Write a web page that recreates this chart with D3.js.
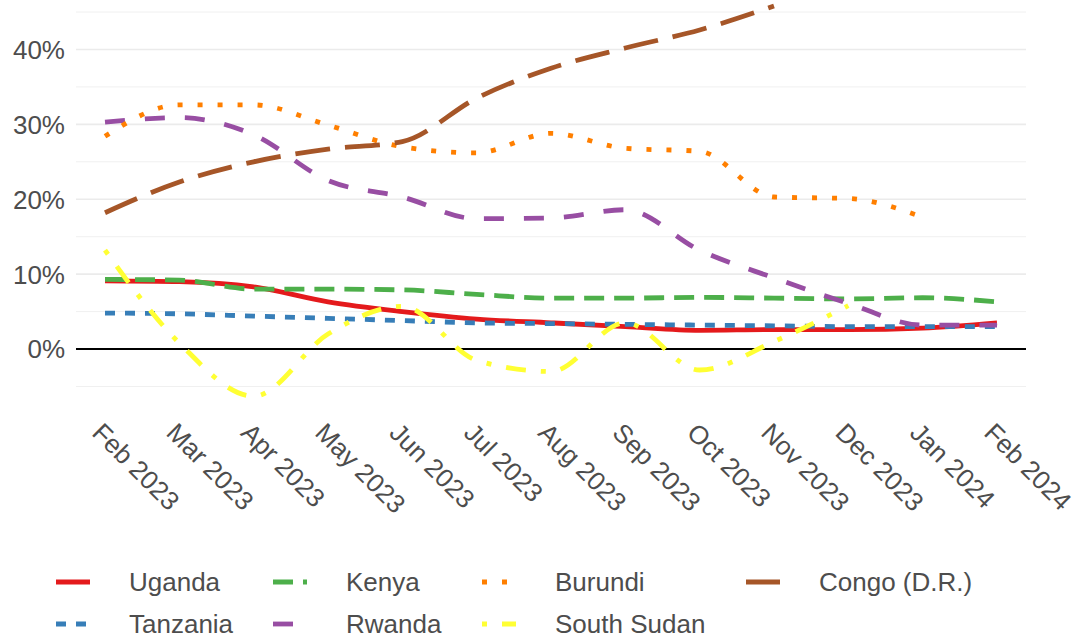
<!DOCTYPE html>
<html>
<head>
<meta charset="utf-8">
<script src="https://cdn.jsdelivr.net/npm/d3@7"></script>
<style>
  html, body { margin: 0; padding: 0; background: #ffffff; }
  svg { display: block; }
  text { font-family: "Liberation Sans", Arial, sans-serif; }
</style>
</head>
<body>
<svg id="chart" width="1078" height="639"></svg>
<script>
// ---- data ----
const months = ["Feb 2023","Mar 2023","Apr 2023","May 2023","Jun 2023","Jul 2023","Aug 2023",
                "Sep 2023","Oct 2023","Nov 2023","Dec 2023","Jan 2024","Feb 2024"];
const uganda     = [9.1, 9.0, 8.3, 6.3, 5.0, 4.0, 3.5, 3.0, 2.5, 2.6, 2.6, 2.8, 3.5];
const tanzania   = [4.8, 4.7, 4.4, 4.1, 3.8, 3.5, 3.4, 3.3, 3.2, 3.1, 3.0, 3.0, 3.0];
const kenya      = [9.3, 9.2, 8.0, 8.0, 7.9, 7.3, 6.8, 6.8, 6.9, 6.8, 6.7, 6.85, 6.3];
const rwanda     = [30.3, 30.9, 28.6, 22.5, 20.3, 17.4, 17.5, 18.6, 13.2, 9.5, 6.1, 3.2, 3.2];
const burundi    = [28.4, 32.6, 32.6, 29.9, 27.0, 26.2, 28.8, 26.8, 26.4, 20.3, 20.1, 17.6, null];
const southSudan = [13.2, 0.8, -6.3, 2.0, 5.7, -1.5, -3.0, 3.5, -2.8, 1.0, 5.8, null, null];
const congo      = [18.2, 22.3, 25.0, 26.7, 27.7, 33.5, 37.5, 40.2, 42.6, 45.8, null, null, null];
const yTicks = [0, 10, 20, 30, 40];
const yMinor = [-5, 5, 15, 25, 35, 45];

const seriesNames  = ["Uganda","Tanzania","Kenya","Rwanda","Burundi","South Sudan","Congo (D.R.)"];
const seriesValues = [uganda, tanzania, kenya, rwanda, burundi, southSudan, congo];
const seriesColors = ["#E41A1C","#377EB8","#4DAF4A","#984EA3","#FF7F00","#FFFF33","#A65628"];
const u = 5; // dash unit
const seriesDash = ["none", `${2*u},${2*u}`, `${4*u},${2*u}`, `${4*u},${4*u}`, `${1*u},${3*u}`,
                    `${1*u},${3*u},${4*u},${3*u}`, `${7*u},${3*u}`];

// ---- layout ----
const svg = d3.select("#chart");
const panel = {left: 76, right: 1026, top: 0, bottom: 400};
const x = d3.scalePoint().domain(months).range([105, 997]);
const y = d3.scaleLinear().domain([-5, 45]).range([386.5, 12]);
const grey = "#4d4d4d";
const lw = 4.8;

// grid
svg.append("g").selectAll("line").data(yMinor).join("line")
  .attr("x1", panel.left).attr("x2", panel.right)
  .attr("y1", d => y(d)).attr("y2", d => y(d))
  .attr("stroke", "#f0f0f0").attr("stroke-width", 1);
svg.append("g").selectAll("line").data(yTicks).join("line")
  .attr("x1", panel.left).attr("x2", panel.right)
  .attr("y1", d => y(d)).attr("y2", d => y(d))
  .attr("stroke", "#ebebeb").attr("stroke-width", 1.6);
// zero line
svg.append("line")
  .attr("x1", panel.left).attr("x2", panel.right)
  .attr("y1", y(0)).attr("y2", y(0))
  .attr("stroke", "#000").attr("stroke-width", 2);

// y labels
svg.append("g").selectAll("text").data(yTicks).join("text")
  .attr("x", 65).attr("y", d => y(d)).attr("dy", "0.36em")
  .attr("text-anchor", "end").attr("font-size", 26).attr("fill", grey)
  .text(d => d + "%");

// x labels
svg.append("g").selectAll("text").data(months).join("text")
  .attr("transform", d => `translate(${x(d) - 1},${421}) rotate(45)`)
  .attr("dy", "0.72em")
  .attr("text-anchor", "start").attr("font-size", 26).attr("fill", grey)
  .text(d => d);

// clip
svg.append("clipPath").attr("id", "clip").append("rect")
  .attr("x", panel.left).attr("y", panel.top)
  .attr("width", panel.right - panel.left).attr("height", panel.bottom - panel.top);

const line = d3.line()
  .defined(d => d.v !== null)
  .x(d => x(d.m)).y(d => y(d.v))
  .curve(d3.curveMonotoneX);

const g = svg.append("g").attr("clip-path", "url(#clip)");
seriesValues.forEach((vals, i) => {
  const pts = months.map((m, j) => ({m, v: vals[j]}));
  g.append("path").datum(pts)
    .attr("d", line)
    .attr("fill", "none")
    .attr("stroke", seriesColors[i])
    .attr("stroke-width", lw)
    .attr("stroke-dasharray", seriesDash[i])
    .attr("stroke-linecap", "butt");
});

// legend (2 rows, column-major)
const colX = [56, 273, 482, 746];
const rowY = [582, 624];
const textOff = 73;
seriesNames.forEach((name, i) => {
  const col = Math.floor(i / 2), row = i % 2;
  const lg = svg.append("g").attr("transform", `translate(${colX[col]},${rowY[row]})`);
  lg.append("line").attr("x1", 0).attr("x2", 34).attr("y1", 0).attr("y2", 0)
    .attr("stroke", seriesColors[i]).attr("stroke-width", lw)
    .attr("stroke-dasharray", seriesDash[i]);
  lg.append("text").attr("x", textOff).attr("y", 0).attr("dy", "0.36em")
    .attr("font-size", 26).attr("fill", grey).text(name);
});
</script>
</body>
</html>
